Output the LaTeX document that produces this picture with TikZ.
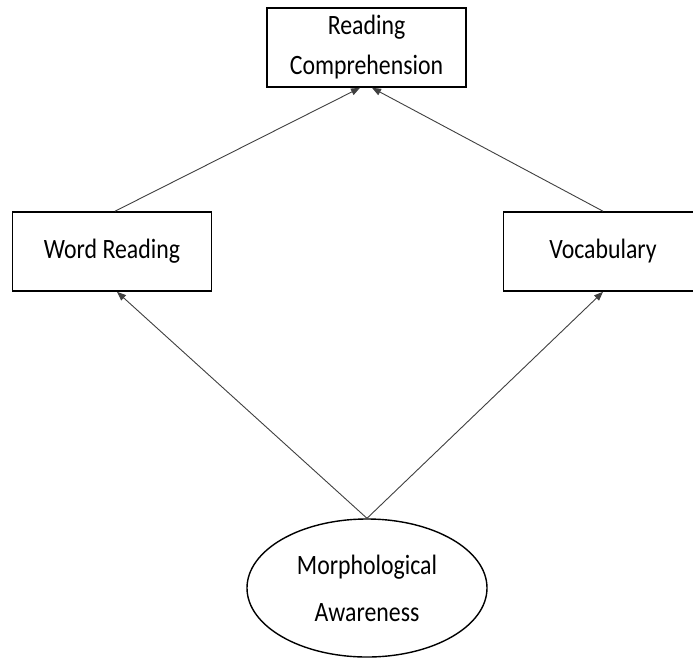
\documentclass[tikz,border=0pt]{standalone}
\usepackage{fontspec}
\setmainfont[FakeStretch=0.85]{Carlito}
\usetikzlibrary{shapes.geometric,arrows.meta}
\tikzset{
  conceptbox/.style={draw=black, line width=1.6pt, rectangle, inner sep=0pt,
    minimum width=199pt, minimum height=79pt, align=center,
    font=\fontsize{28}{40}\selectfont},
  construct/.style={draw=black, line width=1.4pt, ellipse, inner sep=0pt,
    minimum width=240pt, minimum height=138pt, align=center,
    font=\fontsize{28}{47}\selectfont},
  path/.style={draw=black!75, line width=0.9pt,
    -{Triangle[length=9pt,width=7pt]}}
}
\begin{document}
\begin{tikzpicture}[x=1pt,y=-1pt]
  \useasboundingbox (0,0) rectangle (693,657);
  \clip (0,0) rectangle (693,657);
  \fill[white] (0,0) rectangle (693,657);

  \node[conceptbox] (rc)  at (366.5,47.5) {Reading\\Comprehension};
  \node[conceptbox] (wr)  at (112,251.5) {Word Reading};
  \node[conceptbox] (voc) at (603,251.5) {Vocabulary};
  \node[construct]  (ma)  at (367,588)   {Morphological\\Awareness};

  \draw[path] ([xshift=3pt]wr.north) -- ([xshift=-6.5pt]rc.south);
  \draw[path] (voc.north) -- ([xshift=5.5pt]rc.south);
  \draw[path] (ma.north) -- ([xshift=5pt]wr.south);
  \draw[path] (ma.north) -- (voc.south);
\end{tikzpicture}
\end{document}
